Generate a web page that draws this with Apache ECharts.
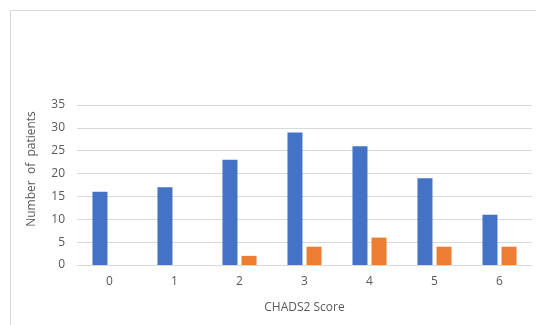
<!DOCTYPE html>
<html>
<head>
<meta charset="utf-8">
<script src="https://cdn.jsdelivr.net/npm/echarts@6/dist/echarts.min.js"></script>
<style>
  html, body { margin: 0; padding: 0; background: #fff; }
  #chart { width: 536px; height: 325px; }
</style>
</head>
<body>
<div id="chart"></div>
<script>
// CHADS2 score distribution
const scores = ['0', '1', '2', '3', '4', '5', '6'];
const seriesA = [16, 17, 23, 29, 26, 19, 11];
const seriesB = [0, 0, 2, 4, 6, 4, 4];
const yTicks = { min: 0, max: 35, interval: 5 };

const FONT = 'Open Sans';
const TEXT = '#595959';

const chart = echarts.init(document.getElementById('chart'));
chart.setOption({
  animation: false,
  grid: { left: 77, right: 4, top: 105, bottom: 60 },
  graphic: [
    {
      type: 'rect',
      shape: { x: 10.5, y: 10.5, width: 700, height: 500 },
      style: { fill: 'none', stroke: '#d9d9d9', lineWidth: 1 },
      silent: true
    },
    {
      type: 'text',
      x: 32, y: 169,
      rotation: Math.PI / 2,
      style: {
        text: 'Number  of  patients',
        fill: TEXT,
        font: '12px "' + FONT + '"',
        align: 'center',
        verticalAlign: 'middle'
      }
    }
  ],
  xAxis: {
    type: 'category',
    data: scores,
    name: 'CHADS2 Score',
    nameLocation: 'middle',
    nameGap: 37,
    nameTextStyle: { color: TEXT, fontFamily: FONT, fontSize: 12 },
    axisLine: { lineStyle: { color: '#d9d9d9' } },
    axisTick: { show: false },
    axisLabel: { color: TEXT, fontFamily: FONT, fontSize: 12, margin: 11 }
  },
  yAxis: {
    type: 'value',
    min: yTicks.min,
    max: yTicks.max,
    interval: yTicks.interval,
    axisLine: { show: false },
    axisTick: { show: false },
    axisLabel: { color: TEXT, fontFamily: FONT, fontSize: 12, margin: 12 },
    splitLine: { lineStyle: { color: '#d9d9d9' } }
  },
  series: [
    {
      type: 'bar',
      data: seriesA,
      barWidth: 15,
      barGap: '27%',
      itemStyle: { color: '#4472c4' }
    },
    {
      type: 'bar',
      data: seriesB,
      barWidth: 15,
      itemStyle: { color: '#ed7d31' }
    }
  ]
});
</script>
</body>
</html>
